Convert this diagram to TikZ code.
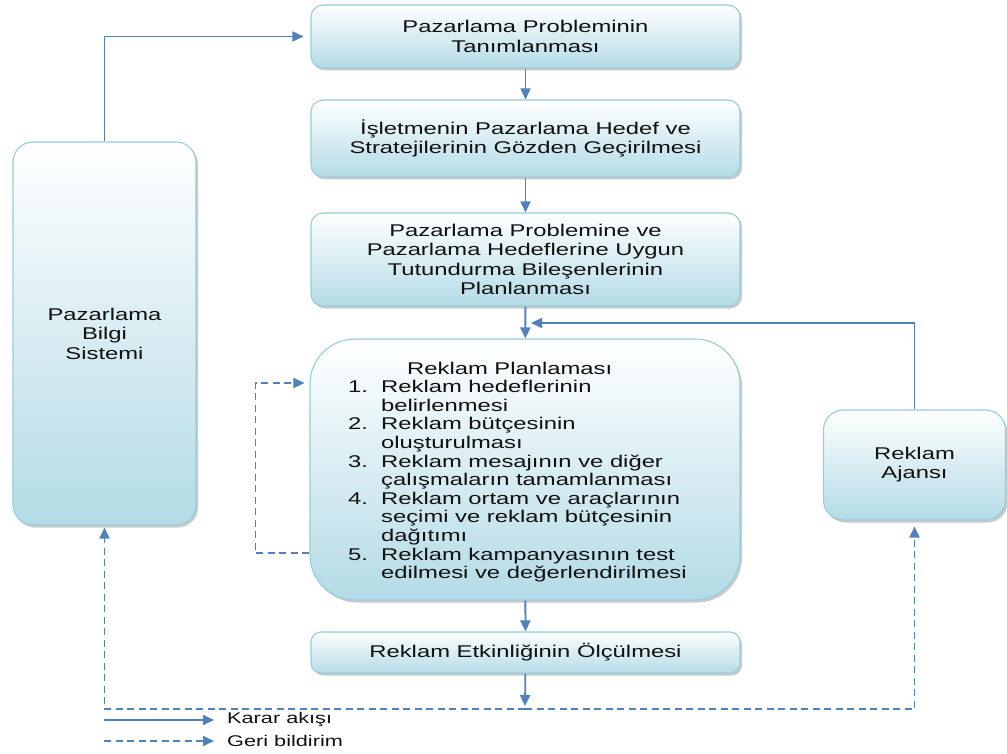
\documentclass[tikz,border=0pt]{standalone}
\usepackage{fontspec}
\setmainfont{Liberation Sans}[FakeStretch=1.4]
\usetikzlibrary{arrows.meta,shadows,calc}
\definecolor{arrowblue}{HTML}{4F81BD}
\definecolor{boxblue}{HTML}{B3DBE6}
\definecolor{edgeblue}{HTML}{96CDDC}
\definecolor{txt}{HTML}{111111}
\begin{document}
\begin{tikzpicture}[x=1pt,y=-1pt,
  box/.style={draw=edgeblue, line width=1.1pt, top color=white, bottom color=boxblue,
    drop shadow={shadow xshift=2pt,shadow yshift=-2.5pt,opacity=0.35,fill=black!60},
    align=center, font=\fontsize{17}{19.5}\selectfont, text=txt, inner sep=0pt},
  flow/.style={draw=arrowblue, line width=1.8pt, -{Triangle[length=11pt,width=10pt]}},
  fback/.style={flow, dash pattern=on 7pt off 4.5pt},
  legtext/.style={anchor=west, inner sep=0pt, font=\fontsize{15.5}{17}\selectfont, text=txt}]
\useasboundingbox (0,0) rectangle (1007,754);

\node[box, rounded corners=12pt, minimum width=429pt, minimum height=63pt] (b1) at (525.5,36.5)
  {Pazarlama Probleminin\\Tanımlanması};
\node[box, rounded corners=12pt, minimum width=429pt, minimum height=77pt] (b2) at (525.5,138.5)
  {İşletmenin Pazarlama Hedef ve\\Stratejilerinin Gözden Geçirilmesi};
\node[box, rounded corners=12pt, minimum width=429pt, minimum height=93pt] (b3) at (525.5,259.5)
  {Pazarlama Problemine ve\\Pazarlama Hedeflerine Uygun\\Tutundurma Bileşenlerinin\\Planlanması};
\node[box, rounded corners=45pt, minimum width=430pt, minimum height=261pt] (big) at (525,469.5) {};
\node[anchor=base west, inner sep=0pt, font=\fontsize{17}{18.6}\selectfont, text=txt] (plantext) at (348,374)
  {\begin{tabular}[t]{@{}p{33pt}@{}l@{}}
  \multicolumn{2}{@{}l@{}}{\hspace{59pt}Reklam Planlaması}\\
  1. & Reklam hedeflerinin\\
     & belirlenmesi\\
  2. & Reklam bütçesinin\\
     & oluşturulması\\
  3. & Reklam mesajının ve diğer\\
     & çalışmaların tamamlanması\\
  4. & Reklam ortam ve araçlarının\\
     & seçimi ve reklam bütçesinin\\
     & dağıtımı\\
  5. & Reklam kampanyasının test\\
     & edilmesi ve değerlendirilmesi
  \end{tabular}};
\node[box, rounded corners=10pt, minimum width=429pt, minimum height=41pt] (b5) at (525.5,652.5)
  {Reklam Etkinliğinin Ölçülmesi};
\node[box, rounded corners=20pt, minimum width=183pt, minimum height=383pt] (left) at (104.5,333.5)
  {Pazarlama\\Bilgi\\Sistemi};
\node[box, rounded corners=20pt, minimum width=182pt, minimum height=110pt] (ajansi) at (914.5,465)
  {\raisebox{8pt}{\begin{tabular}{@{}c@{}}Reklam\\Ajansı\end{tabular}}};

\coordinate (fb) at (525,709);
\coordinate (join) at (531,323);

% decision flow
\draw[flow] (b1) -- (b2);
\draw[flow] (b2) -- (b3);
\draw[flow] (b3) -- (big);
\draw[flow] (big) -- (b5);
\draw[flow, shorten >=3pt] (b5) -- (fb);
\draw[flow, shorten >=7pt] (left.north) |- (b1.west);
\draw[flow] (ajansi.north) |- (join);

% feedback
\draw[fback, shorten >=2pt] (fb) -| (left.south);
\draw[fback, shorten >=6pt] (fb) -| (ajansi.south);
\draw[fback, shorten >=5pt] ($(big.west)+(0,83.5)$) -- ++(-54,0) |- ($(big.west)+(0,-86.5)$);

% legend
\coordinate (l1a) at (104,720);
\coordinate (l1b) at (214,720);
\coordinate (l2a) at (104,741);
\coordinate (l2b) at (214,741);
\draw[flow] (l1a) -- (l1b);
\draw[fback] (l2a) -- (l2b);
\node[legtext] (leg1) at (227,720) {Karar akışı};
\node[legtext] (leg2) at (227,741) {Geri bildirim};
\end{tikzpicture}
\end{document}
